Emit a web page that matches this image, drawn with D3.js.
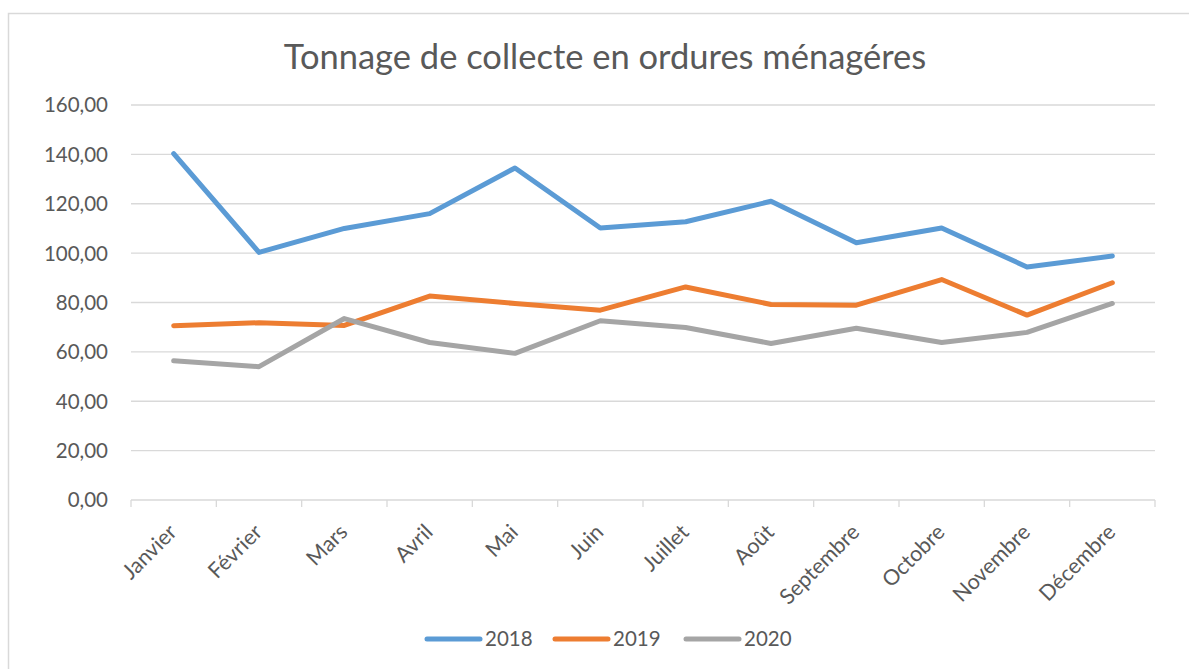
<html lang="fr">
<head>
<meta charset="utf-8">
<title>Tonnage de collecte</title>
<script src="https://d3js.org/d3.v7.min.js"></script>
<style>
  body { margin: 0; background: #fff; }
  text { font-family: Lato, "Open Sans", sans-serif; fill: #595959; }
</style>
</head>
<body>
<div class="chart"></div>
<script>
// data
var months = ["Janvier", "Février", "Mars", "Avril", "Mai", "Juin", "Juillet", "Août", "Septembre", "Octobre", "Novembre", "Décembre"];
var years = ["2018", "2019", "2020"];
var values2018 = [140.3, 100.3, 110.0, 116.0, 134.5, 110.2, 112.7, 121.0, 104.2, 110.2, 94.4, 98.8];
var values2019 = [70.6, 71.8, 70.7, 82.6, 79.6, 76.9, 86.3, 79.2, 78.9, 89.3, 74.9, 88.0];
var values2020 = [56.4, 54.0, 73.5, 63.8, 59.4, 72.6, 69.9, 63.4, 69.6, 63.8, 67.9, 79.6];
var yTicks = [0, 20, 40, 60, 80, 100, 120, 140, 160];
var colors = ["#5B9BD5", "#ED7D31", "#A5A5A5"];

var series = [values2018, values2019, values2020];

const width = 1189, height = 669;
const svg = d3.select('.chart').append('svg')
    .attr('width', width)
    .attr('height', height);

/* chart frame */
svg.append('rect')
    .attr('x', 8.5).attr('y', 13.5)
    .attr('width', 1300).attr('height', 800)
    .attr('fill', 'none')
    .attr('stroke', '#D9D9D9')
    .attr('stroke-width', 1.5);

const x = d3.scaleBand().domain(months).range([131, 1155]);
const y = d3.scaleLinear().domain([0, 160]).range([500, 105]);

/* gridlines */
svg.selectAll('.grid')
    .data(yTicks)
    .enter()
    .append('line')
    .attr('x1', 131).attr('x2', 1155)
    .attr('y1', d => y(d)).attr('y2', d => y(d))
    .attr('stroke', '#D9D9D9')
    .attr('stroke-width', 1.3);

/* y labels */
svg.selectAll('.ylab')
    .data(yTicks)
    .enter()
    .append('text')
    .attr('x', 108)
    .attr('y', d => y(d))
    .attr('dy', '0.36em')
    .attr('text-anchor', 'end')
    .attr('font-size', '20.5px')
    .text(d => d3.format('.2f')(d).replace('.', ','));

/* tick marks between categories */
var bounds = months.map(m => x(m)).concat([x.range()[1]]);
svg.selectAll('.tick')
    .data(bounds)
    .enter()
    .append('line')
    .attr('x1', d => d).attr('x2', d => d)
    .attr('y1', 500).attr('y2', 507)
    .attr('stroke', '#D9D9D9')
    .attr('stroke-width', 1.3);

/* x labels rotated */
svg.selectAll('.xlab')
    .data(months)
    .enter()
    .append('text')
    .attr('transform', d => 'translate(' + (x(d) + x.bandwidth() / 2 - 1) + ',' + 528 + ') rotate(-45)')
    .attr('text-anchor', 'end')
    .attr('dy', '0.36em')
    .attr('font-size', '21.5px')
    .text(d => d);

/* lines */
const line = d3.line()
    .x((d, i) => x(months[i]) + x.bandwidth() / 2)
    .y(d => y(d));

svg.selectAll('.series')
    .data(series)
    .enter()
    .append('path')
    .attr('d', d => line(d))
    .attr('fill', 'none')
    .attr('stroke', (d, i) => colors[i])
    .attr('stroke-width', 5)
    .attr('stroke-linejoin', 'round')
    .attr('stroke-linecap', 'round');

/* title */
svg.append('text')
    .attr('x', 605)
    .attr('y', 69)
    .attr('text-anchor', 'middle')
    .attr('font-size', '34.5px')
    .text('Tonnage de collecte en ordures ménagéres');

/* legend */
var legendX = [427, 555, 686];
years.forEach(function(yr, i) {
    svg.append('line')
        .attr('x1', legendX[i]).attr('x2', legendX[i] + 53)
        .attr('y1', 639).attr('y2', 639)
        .attr('stroke', colors[i])
        .attr('stroke-width', 5)
        .attr('stroke-linecap', 'round');
    svg.append('text')
        .attr('x', legendX[i] + 58)
        .attr('y', 639)
        .attr('dy', '0.36em')
        .attr('font-size', '20.5px')
        .text(yr);
});
</script>
</body>
</html>
